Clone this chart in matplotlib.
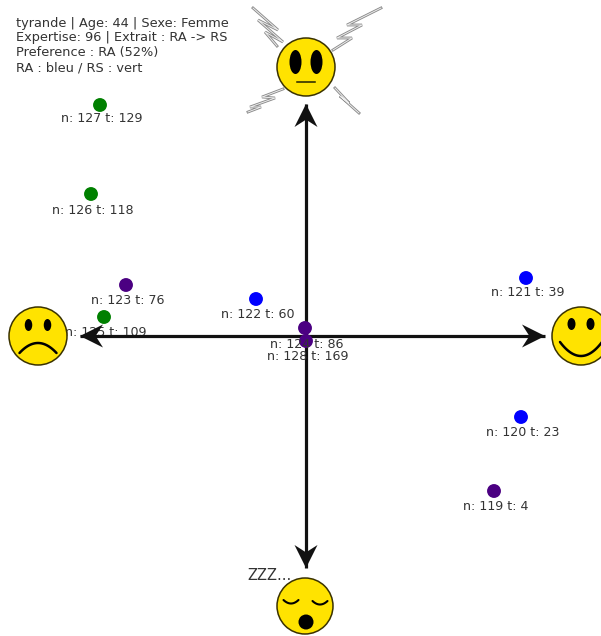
import numpy as np
import matplotlib
matplotlib.use("Agg")
import matplotlib.pyplot as plt
from matplotlib.patches import Circle, Ellipse, Polygon
from matplotlib.path import Path

# Data: positions, in picture pixels
ids = [127, 126, 123, 125, 122, 121, 124, 128, 120, 119]
times = [129, 118, 76, 109, 60, 39, 86, 169, 23, 4]
xs = [100, 91, 126, 104, 256, 526, 305, 306, 521, 494]
ys = [105, 194, 285, 317, 299, 278, 328, 341, 417, 491]
label_dy = [14, 16, 15, 16, 16, 15, 17, 16, 16, 16]
colors = ["green", "green", "#4b0082", "green", "blue", "blue", "#4b0082", "#4b0082", "blue", "#4b0082"]
header = ["tyrande | Age: 44 | Sexe: Femme", "Expertise: 96 | Extrait : RA -> RS",
          "Preference : RA (52%)", "RA : bleu / RS : vert"]
center = (306, 336)
arrow_tips = [(306, 104), (306, 568), (80, 336), (545, 336)]

TXT = "#333333"
fig = plt.figure(figsize=(6.01, 6.36), dpi=100)
ax = fig.add_axes([0, 0, 1, 1])
ax.set_xlim(0, 601)
ax.set_ylim(636, 0)
ax.axis("off")

# Axes arrows
stealth = Path([(0, 0), (-0.5, -1), (0, -0.68), (0.5, -1), (0, 0)],
               [Path.MOVETO, Path.LINETO, Path.LINETO, Path.LINETO, Path.CLOSEPOLY])
for tx, ty in arrow_tips:
    ax.plot([center[0], tx], [center[1], ty], color="#111111", lw=2.3, zorder=2, solid_capstyle="butt")
    ang = np.arctan2(-(ty - center[1]), tx - center[0]) - np.pi / 2
    c, s = np.cos(ang), np.sin(ang)
    v = stealth.vertices
    vv = np.c_[v[:, 0] * c - v[:, 1] * s, v[:, 0] * s + v[:, 1] * c] * 23
    ax.add_patch(Polygon(np.c_[tx + vv[:, 0], ty - vv[:, 1]], closed=True, fc="#111111", ec="none", zorder=4))

# Points + labels
ax.scatter(xs, ys, c=colors, s=100, linewidths=0, zorder=3)
for n, t, x, y, dy in zip(ids, times, xs, ys, label_dy):
    ax.text(x + 2, y + dy, f"n: {n} t: {t}", ha="center", va="center", fontsize=9.1,
            color=TXT, family="DejaVu Sans", zorder=5 if n != 125 else 1)

# Header
for line, y in zip(header, [23, 37.5, 52.5, 68]):
    ax.text(16, y, line, ha="left", va="center", fontsize=9.3, color=TXT, family="DejaVu Sans")

YEL = "#ffe300"
EDGE = "#3a3200"

def face(cx, cy, r=29):
    ax.add_patch(Circle((cx, cy), r, fc=YEL, ec=EDGE, lw=1.1, zorder=6))

def eyes(cx, cy, dx, w, h, ey):
    for sx in (-1, 1):
        ax.add_patch(Ellipse((cx + sx * dx, cy + ey), w, h, fc="black", ec="none", zorder=7))

def curve(cx, cy, hw, y0, bend, lw=1.6):
    t = np.linspace(-1, 1, 30)
    ax.plot(cx + hw * t, cy + y0 + bend * (1 - t ** 2), color="black", lw=lw, zorder=7, solid_capstyle="round")

# Top face (neutral)
face(306, 67)
eyes(306, 67, 10.5, 12, 24, -5)
ax.plot([297, 315], [82, 82], color="#222200", lw=1.1, zorder=7)
# Left face (sad)
face(38, 336)
eyes(38, 336, 9.5, 7.5, 12, -11)
curve(38, 336, 18.5, 17, -10, lw=1.8)
# Right face (happy), clipped by figure edge
face(581, 336)
eyes(581, 336, 9.5, 8, 12, -12)
curve(581, 336, 21, 6, 14, lw=1.8)
# Bottom face (sleeping)
face(305, 606, 28)
ax.add_patch(Ellipse((306, 622), 15, 15, fc="black", ec="none", zorder=7))
curve(291, 606, 7.5, -6, 3.5, lw=1.5)
curve(320, 606, 7.5, -5, 3.5, lw=1.5)
ax.text(247, 576, "ZZZ...", ha="left", va="center", fontsize=10.5, color=TXT, family="DejaVu Sans", zorder=8)

# Lightning bolts: zigzags drawn as a grey stroke with a white core
bolts = [
    [(253, 8), (278, 30), (258, 20), (283, 42), (265, 32), (277, 46)],
    [(381, 8), (347, 25), (362, 25), (337, 38), (352, 38), (333, 50)],
    [(283, 89), (262, 97), (275, 98), (250, 107), (261, 107), (248, 112)],
    [(335, 88), (349, 103), (340, 96), (359, 113)],
]
for b in bolts:
    bx, by = zip(*b)
    ax.plot(bx, by, color="#8a8a8a", lw=2.0, zorder=1, solid_joinstyle="miter")
    ax.plot(bx, by, color="#eeeeee", lw=0.7, zorder=1, solid_joinstyle="miter")

fig.savefig("out.png", dpi=100)
